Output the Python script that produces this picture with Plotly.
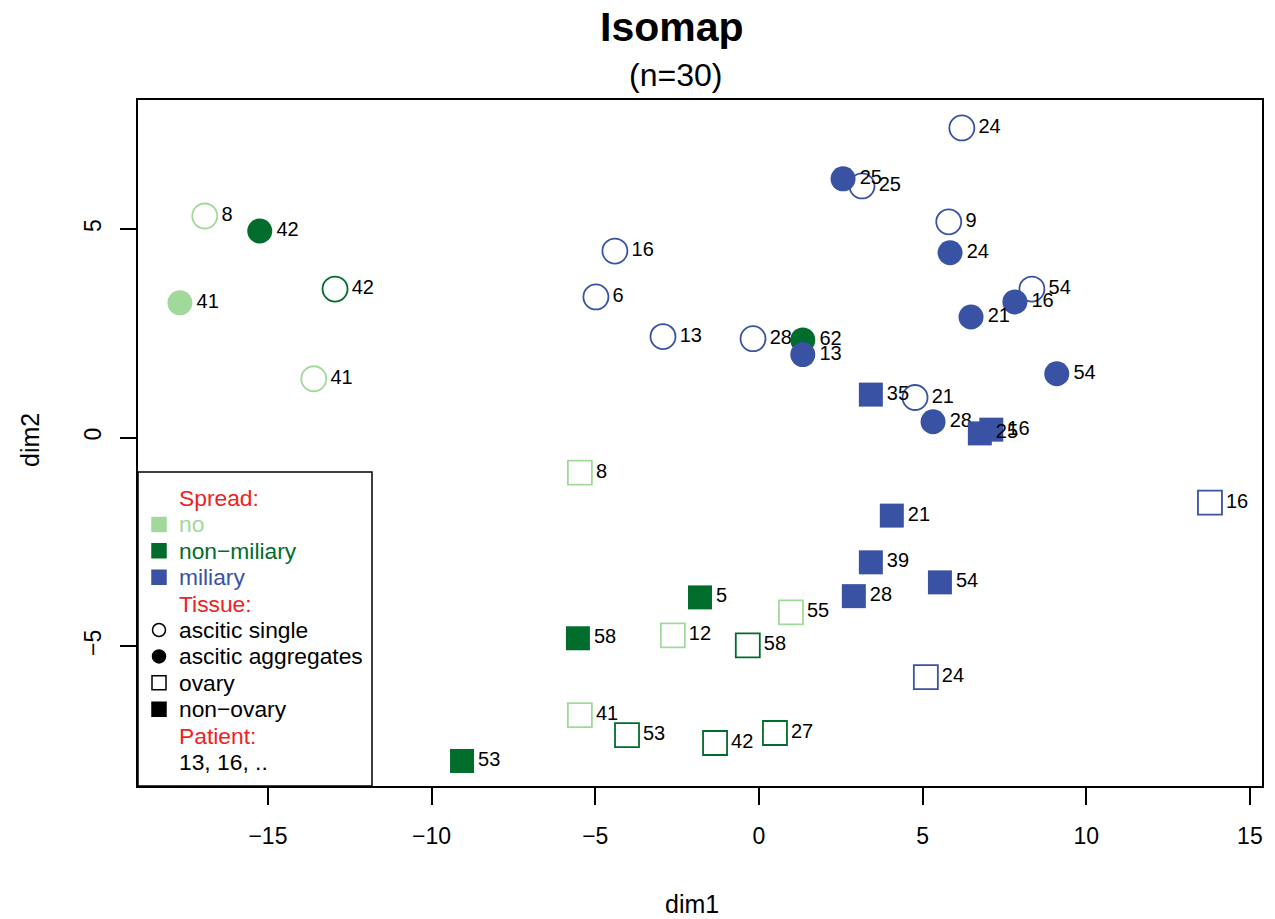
import plotly.graph_objects as go

# ---- data ----
dim1 = [-16.93, -13.60, -17.69, -15.25, 1.34, -12.95,
        6.20, 3.15, 5.80, -4.40, -4.98, 8.34, -2.93, -0.18, 4.77,
        2.57, 5.84, 7.82, 6.48, 1.34, 9.10, 5.32,
        3.42, 6.75, 7.10, 4.06, 3.42, 5.53, 2.90,
        13.78, 5.10,
        -5.47, 0.98, -2.63, -5.47,
        -1.80, -5.53, -9.07,
        -0.34, -4.03, -1.34, 0.49]
dim2 = [5.31, 1.41, 3.23, 4.95, 2.34, 3.56,
        7.42, 6.03, 5.17, 4.47, 3.37, 3.56, 2.42, 2.37, 0.96,
        6.20, 4.43, 3.25, 2.89, 1.99, 1.53, 0.38,
        1.03, 0.10, 0.19, -1.87, -2.99, -3.47, -3.80,
        -1.56, -5.74,
        -0.84, -4.19, -4.74, -6.65,
        -3.83, -4.81, -7.75,
        -4.98, -7.13, -7.32, -7.08]
patient = ["8", "41", "41", "42", "62", "42",
           "24", "25", "9", "16", "6", "54", "13", "28", "21",
           "25", "24", "16", "21", "13", "54", "28",
           "35", "25", "16", "21", "39", "54", "28",
           "16", "24",
           "8", "55", "12", "41",
           "5", "58", "53",
           "58", "53", "42", "27"]
spread = (["no", "no", "no", "non-miliary", "non-miliary", "non-miliary"]
          + ["miliary"] * 9 + ["miliary"] * 7 + ["miliary"] * 7 + ["miliary"] * 2
          + ["no"] * 4 + ["non-miliary"] * 3 + ["non-miliary"] * 4)
tissue = (["ascitic single", "ascitic single", "ascitic aggregates",
           "ascitic aggregates", "ascitic aggregates", "ascitic single"]
          + ["ascitic single"] * 9 + ["ascitic aggregates"] * 7
          + ["non-ovary"] * 7 + ["ovary"] * 2
          + ["ovary"] * 4 + ["non-ovary"] * 3 + ["ovary"] * 4)

spread_levels = ["no", "non-miliary", "miliary"]
tissue_levels = ["ascitic single", "ascitic aggregates", "ovary", "non-ovary"]
x_ticks = [-15, -10, -5, 0, 5, 10, 15]
y_ticks = [-5, 0, 5]

colors = {"no": "#a1d99b", "non-miliary": "#006d2c", "miliary": "#3a52a3"}
symbols = {"ascitic single": "circle-open", "ascitic aggregates": "circle",
           "ovary": "square-open", "non-ovary": "square"}
RED = "#ee2222"
FONT = "Liberation Sans, Arial, sans-serif"

# plot-area pixel geometry
L, R, T, B = 138, 1262, 100, 786

fig = go.Figure()
for t in tissue_levels:
    for s in spread_levels:
        idx = [i for i in range(len(dim1)) if spread[i] == s and tissue[i] == t]
        if not idx:
            continue
        filled = t in ("ascitic aggregates", "non-ovary")
        is_circle = "circle" in symbols[t]
        fig.add_trace(go.Scatter(
            x=[dim1[i] for i in idx], y=[dim2[i] for i in idx],
            text=[patient[i] for i in idx],
            mode="markers+text", textposition="middle right",
            textfont=dict(family=FONT, size=20, color="black"),
            marker=dict(symbol=symbols[t], size=25 if is_circle else 24,
                        color=colors[s],
                        line=dict(width=1.8 if not filled else 0, color=colors[s])),
            showlegend=False, hoverinfo="skip"))

fig.update_layout(
    width=1275, height=919,
    margin=dict(l=L, r=1275 - R, t=T, b=919 - B),
    plot_bgcolor="white", paper_bgcolor="white",
    font=dict(family=FONT, color="black"),
    showlegend=False,
)
fig.update_xaxes(range=[-18.97, 15.37], tickvals=x_ticks,
                 ticktext=[str(v).replace("-", "\u2212") for v in x_ticks],
                 showgrid=False, zeroline=False, showline=True, mirror=True,
                 linecolor="black", linewidth=1.5, ticks="outside", ticklen=17,
                 tickwidth=1.5, tickcolor="black", ticklabelstandoff=12,
                 tickfont=dict(size=23, family=FONT))
fig.update_yaxes(range=[-8.35, 8.09], tickvals=y_ticks,
                 ticktext=[str(v).replace("-", "\u2212") for v in y_ticks],
                 tickangle=-90,
                 showgrid=False, zeroline=False, showline=True, mirror=True,
                 linecolor="black", linewidth=1.5, ticks="outside", ticklen=16,
                 tickwidth=1.5, tickcolor="black", ticklabelstandoff=10,
                 tickfont=dict(size=23, family=FONT))


def pann(text, px, py, size, color="black", bold=False, anchor="center", angle=0):
    # px, py in page pixel coordinates -> paper coordinates
    xp = (px - L) / (R - L)
    yp = (B - py) / (B - T)
    fig.add_annotation(text=("<b>%s</b>" % text) if bold else text, x=xp, y=yp,
                       xref="paper", yref="paper", showarrow=False,
                       xanchor=anchor, yanchor="middle", textangle=angle,
                       font=dict(size=size, color=color, family=FONT))


pann("Isomap", 672, 27, 41, bold=True)
pann("(n=30)", 675, 75, 32)
pann("dim1", 692, 904, 25)
pann("dim2", 30, 440, 25, angle=-90)

# legend box
fig.add_shape(type="rect", xref="paper", yref="paper",
              x0=0, x1=(372 - L) / (R - L), y0=0, y1=(B - 472) / (B - T),
              line=dict(color="black", width=1.5), fillcolor="white", layer="above")

rows = [("Spread:", RED, None), ("no", colors["no"], ("square", colors["no"])),
        ("non\u2212miliary", colors["non-miliary"], ("square", colors["non-miliary"])),
        ("miliary", colors["miliary"], ("square", colors["miliary"])),
        ("Tissue:", RED, None),
        ("ascitic single", "black", ("circle-open", "black")),
        ("ascitic aggregates", "black", ("circle", "black")),
        ("ovary", "black", ("square-open", "black")),
        ("non\u2212ovary", "black", ("square", "black")),
        ("Patient:", RED, None), ("13, 16, ..", "black", None)]
for k, (txt, col, sym) in enumerate(rows):
    py = 498 + k * 26.4
    pann(txt, 177, py, 22.8, color=col, anchor="left")
    if sym:
        kind, scol = sym
        xp = (159 - L) / (R - L)
        yp = (B - py) / (B - T)
        shape_type = "circle" if "circle" in kind else "rect"
        half = 6.5 if shape_type == "circle" else 7
        openm = kind.endswith("open")
        fig.add_shape(type=shape_type, xref="paper", yref="paper",
                      xsizemode="pixel", ysizemode="pixel", xanchor=xp, yanchor=yp,
                      x0=-half, x1=half, y0=-half, y1=half,
                      line=dict(color=scol, width=1.5),
                      fillcolor="white" if openm else scol, layer="above")

fig.write_html("out.html")
